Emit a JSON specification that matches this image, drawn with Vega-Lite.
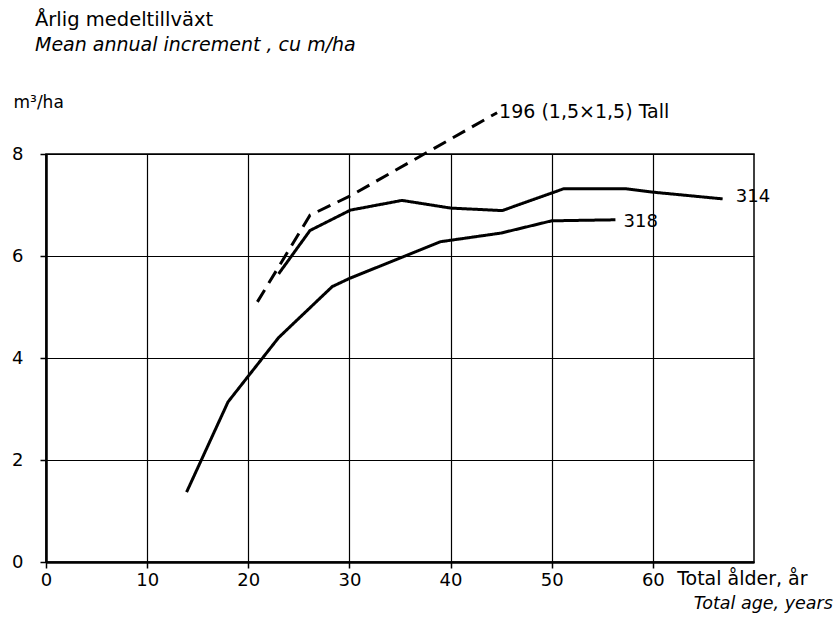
{
  "$schema": "https://vega.github.io/schema/vega-lite/v6.json",
  "width": 708,
  "height": 408,
  "autosize": {"type": "none"},
  "padding": {"left": 46, "top": 154, "right": 85, "bottom": 55},
  "background": "white",
  "config": {
    "font": "DejaVu Sans",
    "view": {"stroke": "black", "strokeWidth": 1.5},
    "axis": {
      "labelFont": "DejaVu Sans",
      "labelFontSize": 18,
      "labelColor": "black",
      "domainColor": "black",
      "domainWidth": 2.5,
      "tickColor": "black",
      "tickWidth": 1.5,
      "tickSize": 6,
      "gridColor": "black",
      "gridWidth": 1.2,
      "gridOpacity": 1
    }
  },
  "title": {
    "text": "Årlig medeltillväxt",
    "subtitle": "Mean annual increment ,  cu m/ha",
    "anchor": "start",
    "frame": "group",
    "dx": -11,
    "offset": 37,
    "font": "DejaVu Sans",
    "fontSize": 19.5,
    "fontWeight": "normal",
    "color": "black",
    "subtitleFont": "DejaVu Sans",
    "subtitleFontSize": 19,
    "subtitleFontStyle": "italic",
    "subtitleColor": "black",
    "subtitlePadding": 6
  },
  "datasets": {
    "curves": [
      {"series": "318", "age": 13.9, "mai": 1.37},
      {"series": "318", "age": 18.0, "mai": 3.14},
      {"series": "318", "age": 23.0, "mai": 4.40},
      {"series": "318", "age": 28.3, "mai": 5.40},
      {"series": "318", "age": 30.0, "mai": 5.56},
      {"series": "318", "age": 39.0, "mai": 6.28},
      {"series": "318", "age": 45.0, "mai": 6.45},
      {"series": "318", "age": 50.0, "mai": 6.69},
      {"series": "318", "age": 56.3, "mai": 6.71},
      {"series": "314", "age": 23.0, "mai": 5.65},
      {"series": "314", "age": 26.1, "mai": 6.50},
      {"series": "314", "age": 30.1, "mai": 6.90},
      {"series": "314", "age": 35.2, "mai": 7.09},
      {"series": "314", "age": 40.0, "mai": 6.94},
      {"series": "314", "age": 45.1, "mai": 6.89},
      {"series": "314", "age": 51.2, "mai": 7.32},
      {"series": "314", "age": 57.3, "mai": 7.32},
      {"series": "314", "age": 60.1, "mai": 7.25},
      {"series": "314", "age": 66.9, "mai": 7.12},
      {"series": "196", "age": 20.9, "mai": 5.10},
      {"series": "196", "age": 26.1, "mai": 6.80},
      {"series": "196", "age": 30.1, "mai": 7.18},
      {"series": "196", "age": 44.6, "mai": 8.81}
    ],
    "curveLabels": [
      {"age": 68.2, "mai": 7.15, "label": "314"},
      {"age": 57.1, "mai": 6.66, "label": "318"}
    ],
    "seriesNote": [
      {"age": 44.8, "mai": 8.82, "label": "196 (1,5×1,5) Tall"}
    ],
    "axisNote": [
      {"age": 62.4, "mai": -0.33, "label": "Total ålder, år"}
    ],
    "axisNoteEn": [
      {"age": 77.8, "mai": -0.82, "label": "Total age, years"}
    ]
  },
  "layer": [
    {
      "data": {"name": "curves"},
      "mark": {"type": "line", "color": "black", "strokeWidth": 3, "strokeCap": "butt"},
      "encoding": {
        "x": {
          "field": "age", "type": "quantitative",
          "scale": {"domain": [0, 70], "nice": false, "zero": false},
          "axis": {
            "title": null,
            "values": [0, 10, 20, 30, 40, 50, 60],
            "gridValues": [10, 20, 30, 40, 50, 60],
            "labelPadding": 3,
            "labelFlush": false
          }
        },
        "y": {
          "field": "mai", "type": "quantitative",
          "scale": {"domain": [0, 8], "nice": false},
          "axis": {
            "title": "m³/ha",
            "titleAngle": 0,
            "titleAlign": "left",
            "titleBaseline": "alphabetic",
            "titleX": -33,
            "titleY": -47,
            "titleFont": "DejaVu Sans",
            "titleFontSize": 17,
            "titleFontWeight": "normal",
            "titleColor": "black",
            "values": [0, 2, 4, 6, 8],
            "labelPadding": 17,
            "labelFlush": false
          }
        },
        "detail": {"field": "series"},
        "strokeDash": {
          "field": "series", "type": "nominal",
          "scale": {"domain": ["196", "314", "318"], "range": [[14, 8], [1, 0], [1, 0]]},
          "legend": null
        }
      }
    },
    {
      "data": {"name": "curveLabels"},
      "mark": {"type": "text", "align": "left", "baseline": "middle", "fontSize": 18, "color": "black"},
      "encoding": {
        "x": {"field": "age", "type": "quantitative"},
        "y": {"field": "mai", "type": "quantitative"},
        "text": {"field": "label"}
      }
    },
    {
      "data": {"name": "seriesNote"},
      "mark": {"type": "text", "align": "left", "baseline": "middle", "fontSize": 19, "color": "black"},
      "encoding": {
        "x": {"field": "age", "type": "quantitative"},
        "y": {"field": "mai", "type": "quantitative"},
        "text": {"field": "label"}
      }
    },
    {
      "data": {"name": "axisNote"},
      "mark": {"type": "text", "align": "left", "baseline": "middle", "fontSize": 19, "color": "black"},
      "encoding": {
        "x": {"field": "age", "type": "quantitative"},
        "y": {"field": "mai", "type": "quantitative"},
        "text": {"field": "label"}
      }
    },
    {
      "data": {"name": "axisNoteEn"},
      "mark": {"type": "text", "align": "right", "baseline": "middle", "fontSize": 17.5, "fontStyle": "italic", "color": "black"},
      "encoding": {
        "x": {"field": "age", "type": "quantitative"},
        "y": {"field": "mai", "type": "quantitative"},
        "text": {"field": "label"}
      }
    }
  ]
}
